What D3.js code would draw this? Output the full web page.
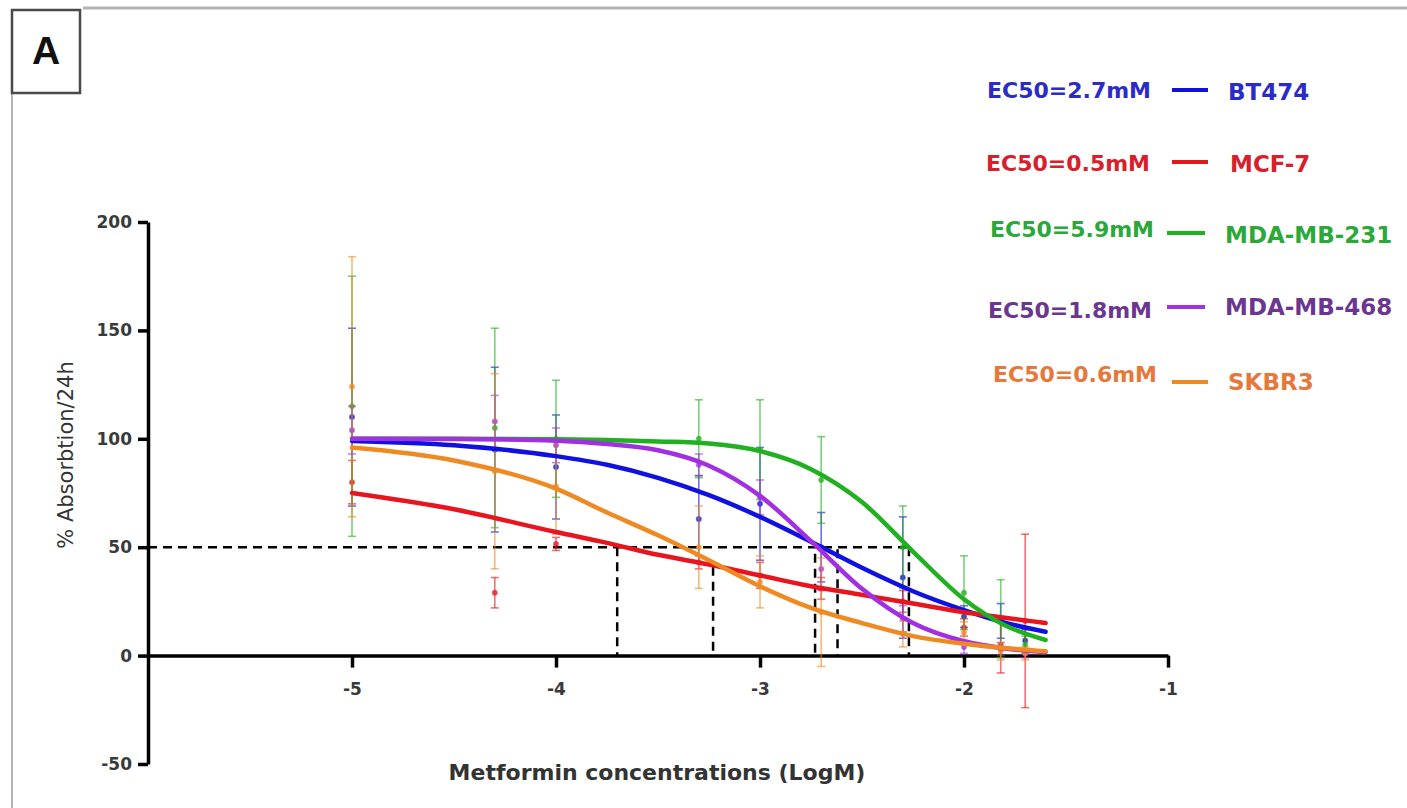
<!DOCTYPE html>
<html>
<head>
<meta charset="utf-8">
<script src="https://cdn.jsdelivr.net/npm/d3@7"></script>
<style>
  html, body { margin: 0; padding: 0; background: #fff; }
  svg { display: block; }
</style>
</head>
<body>
<svg id="chart" width="1407" height="808"></svg>
<script>
// ---------------- DATA ----------------
const seriesNames = ["BT474", "MCF-7", "MDA-MB-231", "MDA-MB-468", "SKBR3"];
const ec50Labels = ["EC50=2.7mM", "EC50=0.5mM", "EC50=5.9mM", "EC50=1.8mM", "EC50=0.6mM"];
const seriesColors = ["#1010e0", "#e8141e", "#20b020", "#a030e0", "#ef8a22"];
const textColors = ["#2b2bc8", "#d8202c", "#2aa83a", "#6a3690", "#e6783c"];

// measured log concentrations
const doses = [-5, -4.3, -4, -3.3, -3, -2.7, -2.3, -2, -1.82, -1.7];
// means and SD at each dose
const meanBT474 = [110, 95, 87, 63, 70, 50, 36, 18, 16, 7];
const sdBT474   = [41, 38, 24, 20, 26, 16, 28, 5, 8, 5];
const meanMCF7  = [80, 29, 51.5, 43, 37, 31, 25, 13, 5, 16];
const sdMCF7    = [10, 7, 3, 3, 6, 5, 5, 4, 13, 40];
const mean231   = [115, 105, 100, 100, 95, 81, 50, 29, 17, 5];
const sd231     = [60, 46, 27, 18, 23, 20, 19, 17, 18, 4];
const mean468   = [104, 108, 97, 88, 73, 40, 17, 4, 3, 1];
const sd468     = [11, 12, 8, 5, 8, 10, 6, 3, 3, 2];
const meanSKBR3 = [124, 85, 78, 50, 34, 20, 10, 10.6, 2, 1];
const sdSKBR3   = [60, 45, 22, 19, 12, 25, 6, 5, 4, 3];

const curveX     = [-5, -4.5, -4, -3.75, -3.5, -3.25, -3, -2.75, -2.5, -2.25, -2, -1.8, -1.6];
const fitBT474   = [99, 97, 92, 88, 82, 74, 64, 52.5, 40.5, 29.7, 21, 15.2, 11];
const fitMCF7    = [75, 67.5, 57, 52, 46.5, 42, 37, 32, 28, 24, 20, 17.5, 15];
const fit231     = [100, 100, 99.8, 99.5, 98.8, 97.8, 94.3, 86, 70.8, 48, 26, 14, 7.2];
const fit468     = [100, 99.9, 99.1, 97.6, 94.7, 87.6, 73.7, 52.8, 30.8, 15, 6.6, 3.3, 1.6];
const fitSKBR3   = [96, 90, 77, 66, 55.5, 44, 32, 22, 15, 9, 5.5, 3.5, 2];

// EC50 guide lines: x position and top value of the vertical dashes
const ec50X   = [-3.70, -3.23, -2.73, -2.62, -2.27];
const ec50Top = [50, 41, 47, 49, 50];
const halfLevel = 50;

const yTicks = [-50, 0, 50, 100, 150, 200];
const xTicks = [-5, -4, -3, -2, -1];

const means = [meanBT474, meanMCF7, mean231, mean468, meanSKBR3];
const sds = [sdBT474, sdMCF7, sd231, sd468, sdSKBR3];
const fits = [fitBT474, fitMCF7, fit231, fit468, fitSKBR3];

// ---------------- DRAW ----------------
const svg = d3.select("#chart");
const x = d3.scaleLinear().domain([-6, -1]).range([148, 1168]);
const y = d3.scaleLinear().domain([-50, 200]).range([764, 222]);

// frame
svg.append("line").attr("x1", 83).attr("x2", 1407).attr("y1", 8).attr("y2", 8)
  .attr("stroke", "#b4b4b4").attr("stroke-width", 3);
svg.append("line").attr("x1", 12).attr("x2", 12).attr("y1", 93).attr("y2", 808)
  .attr("stroke", "#b4b4b4").attr("stroke-width", 2);
svg.append("rect").attr("x", 12).attr("y", 10).attr("width", 68).attr("height", 83)
  .attr("fill", "#fff").attr("stroke", "#4a4a4a").attr("stroke-width", 2.5);
svg.append("text").attr("x", 46).attr("y", 64).attr("text-anchor", "middle")
  .attr("font-family", "Liberation Sans, Arial, sans-serif").attr("font-weight", "bold")
  .attr("font-size", 39).attr("fill", "#111").text("A");

const fontFam = "DejaVu Sans, Verdana, sans-serif";
const fmt = d => String(d);

// y axis
const yAxis = svg.append("g").attr("transform", `translate(${x(-6)},0)`)
  .call(d3.axisLeft(y).tickValues(yTicks).tickFormat(fmt).tickSize(10).tickSizeOuter(0).tickPadding(6));
// x axis at y=0
const xAxis = svg.append("g").attr("transform", `translate(0,${y(0)})`)
  .call(d3.axisBottom(x).tickValues(xTicks).tickFormat(fmt).tickSize(12).tickSizeOuter(0).tickPadding(15));

[yAxis, xAxis].forEach(g => {
  g.select(".domain").attr("stroke", "#000").attr("stroke-width", 3.5);
  g.selectAll(".tick line").attr("stroke", "#000").attr("stroke-width", 3.5);
  g.selectAll(".tick text").attr("font-family", fontFam).attr("font-weight", "bold")
    .attr("font-size", 17).attr("fill", "#3a3a3a");
});

// dashed guides
const dashG = svg.append("g").attr("stroke", "#000").attr("stroke-width", 2.5)
  .attr("stroke-dasharray", "9,6").attr("fill", "none");
dashG.append("line").attr("x1", x(-6)).attr("x2", x(d3.max(ec50X)))
  .attr("y1", y(halfLevel)).attr("y2", y(halfLevel));
ec50X.forEach((v, i) => {
  dashG.append("line").attr("x1", x(v)).attr("x2", x(v))
    .attr("y1", y(ec50Top[i])).attr("y2", y(0));
});

// error bars
const errG = svg.append("g");
seriesNames.forEach((name, si) => {
  const g = errG.append("g").attr("stroke", seriesColors[si]).attr("stroke-width", 1.6)
    .attr("stroke-opacity", 0.6).attr("fill", seriesColors[si]);
  doses.forEach((d, i) => {
    const m = means[si][i], s = sds[si][i];
    const cx = x(d);
    g.append("line").attr("x1", cx).attr("x2", cx).attr("y1", y(m + s)).attr("y2", y(m - s));
    g.append("line").attr("x1", cx - 4).attr("x2", cx + 4).attr("y1", y(m + s)).attr("y2", y(m + s));
    g.append("line").attr("x1", cx - 4).attr("x2", cx + 4).attr("y1", y(m - s)).attr("y2", y(m - s));
    g.append("circle").attr("cx", cx).attr("cy", y(m)).attr("r", 2.2).attr("fill-opacity", 0.7);
  });
});

// fitted curves
const line = d3.line().x((d, i) => x(curveX[i])).y(d => y(d)).curve(d3.curveMonotoneX);
seriesNames.forEach((name, si) => {
  svg.append("path").datum(fits[si]).attr("d", line).attr("fill", "none")
    .attr("stroke", seriesColors[si]).attr("stroke-width", 4.5).attr("stroke-linecap", "round");
});

// legend
const legendRows = [
  { ecX: 987, ecY: 98, lx1: 1172, lx2: 1208, ly: 90, nX: 1228, nY: 100 },
  { ecX: 986, ecY: 171, lx1: 1172, lx2: 1208, ly: 162, nX: 1230, nY: 172 },
  { ecX: 990, ecY: 237, lx1: 1167, lx2: 1205, ly: 233, nX: 1225, nY: 243 },
  { ecX: 988, ecY: 318, lx1: 1167, lx2: 1205, ly: 307, nX: 1225, nY: 315 },
  { ecX: 993, ecY: 382, lx1: 1172, lx2: 1208, ly: 382, nX: 1228, nY: 390 }
];
seriesNames.forEach((name, si) => {
  const r = legendRows[si];
  svg.append("text").attr("x", r.ecX).attr("y", r.ecY).attr("font-family", fontFam)
    .attr("font-weight", "bold").attr("font-size", 22).attr("fill", textColors[si]).text(ec50Labels[si]);
  svg.append("line").attr("x1", r.lx1).attr("x2", r.lx2).attr("y1", r.ly).attr("y2", r.ly)
    .attr("stroke", seriesColors[si]).attr("stroke-width", 4);
  svg.append("text").attr("x", r.nX).attr("y", r.nY).attr("font-family", fontFam)
    .attr("font-weight", "bold").attr("font-size", 23).attr("fill", textColors[si]).text(name);
});

// axis titles
svg.append("text").attr("x", 657).attr("y", 780).attr("text-anchor", "middle")
  .attr("font-family", fontFam).attr("font-weight", "bold").attr("font-size", 22)
  .attr("fill", "#333").text("Metformin concentrations (LogM)");
svg.append("text").attr("transform", "translate(73,455) rotate(-90)").attr("text-anchor", "middle")
  .attr("font-family", fontFam).attr("font-size", 21).attr("fill", "#333")
  .text("% Absorbtion/24h");
</script>
</body>
</html>
